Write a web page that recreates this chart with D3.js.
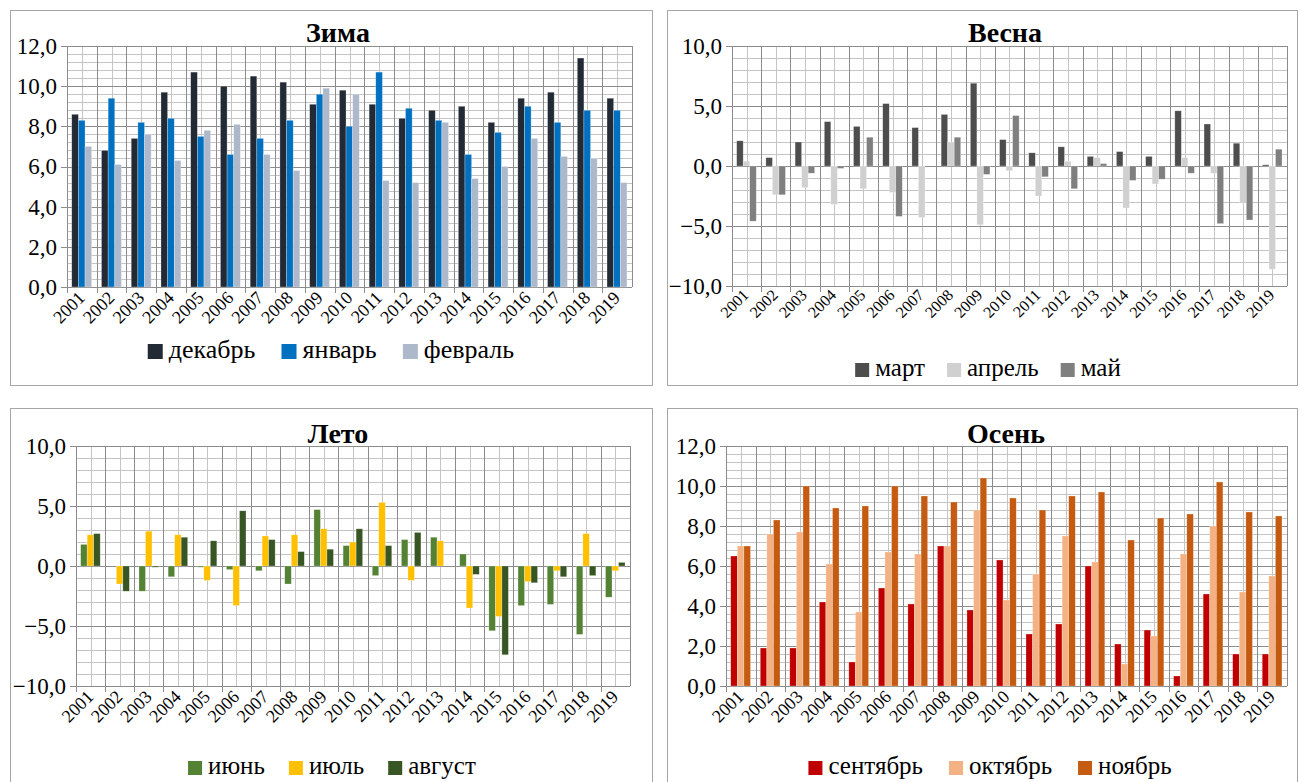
<!DOCTYPE html>
<html>
<head>
<meta charset="utf-8">
<script src="https://cdn.jsdelivr.net/npm/d3@7/dist/d3.min.js"></script>
<style>
  body { margin: 0; background: #fff; }
  svg { display: block; }
  svg text { font-family: "Liberation Serif", "Times New Roman", Times, "DejaVu Serif", serif; fill: #000; }
</style>
</head>
<body>
<svg id="chart" width="1307" height="782"></svg>
<script>
const years = ['2001','2002','2003','2004','2005','2006','2007','2008','2009','2010',
               '2011','2012','2013','2014','2015','2016','2017','2018','2019'];

// Зима
const december = [8.6, 6.8, 7.4, 9.7, 10.7, 10.0, 10.5, 10.2, 9.1, 9.8, 9.1, 8.4, 8.8, 9.0, 8.2, 9.4, 9.7, 11.4, 9.4];
const january  = [8.3, 9.4, 8.2, 8.4, 7.5, 6.6, 7.4, 8.3, 9.6, 8.0, 10.7, 8.9, 8.3, 6.6, 7.7, 9.0, 8.2, 8.8, 8.8];
const february = [7.0, 6.1, 7.6, 6.3, 7.8, 8.1, 6.6, 5.8, 9.9, 9.6, 5.3, 5.2, 8.2, 5.4, 6.0, 7.4, 6.5, 6.4, 5.2];

// Весна
const march = [2.1, 0.7, 2.0, 3.7, 3.3, 5.2, 3.2, 4.3, 6.9, 2.2, 1.1, 1.6, 0.8, 1.2, 0.8, 4.6, 3.5, 1.9, 0.1];
const april = [0.4, -2.4, -1.8, -3.2, -1.9, -2.2, -4.3, 2.0, -4.9, -0.4, -2.5, 0.4, 0.7, -3.5, -1.5, 0.7, -0.6, -3.1, -8.6];
const may   = [-4.6, -2.4, -0.6, -0.2, 2.4, -4.2, 0.0, 2.4, -0.7, 4.2, -0.9, -1.9, 0.2, -1.2, -1.1, -0.6, -4.8, -4.5, 1.4];

// Лето
const june   = [1.8, 0.0, -2.1, -0.9, -0.1, -0.3, -0.4, -1.5, 4.7, 1.7, -0.8, 2.2, 2.4, 1.0, -5.4, -3.3, -3.2, -5.7, -2.6];
const july   = [2.6, -1.5, 2.9, 2.6, -1.2, -3.3, 2.5, 2.6, 3.1, 2.0, 5.3, -1.2, 2.1, -3.5, -4.2, -1.3, -0.4, 2.7, -0.4];
const august = [2.7, -2.1, -0.1, 2.4, 2.1, 4.6, 2.2, 1.2, 1.4, 3.1, 1.7, 2.8, 0.0, -0.7, -7.4, -1.4, -0.9, -0.8, 0.3];

// Осень
const september = [6.5, 1.9, 1.9, 4.2, 1.2, 4.9, 4.1, 7.0, 3.8, 6.3, 2.6, 3.1, 6.0, 2.1, 2.8, 0.5, 4.6, 1.6, 1.6];
const october   = [7.0, 7.6, 7.7, 6.1, 3.7, 6.7, 6.6, 7.0, 8.8, 4.3, 5.6, 7.5, 6.2, 1.1, 2.5, 6.6, 8.0, 4.7, 5.5];
const november  = [7.0, 8.3, 10.0, 8.9, 9.0, 10.0, 9.5, 9.2, 10.4, 9.4, 8.8, 9.5, 9.7, 7.3, 8.4, 8.6, 10.2, 8.7, 8.5];

const positiveTicks = [0, 2, 4, 6, 8, 10, 12];
const signedTicks = [-10, -5, 0, 5, 10];

const FONT = '"Liberation Serif", "Times New Roman", Times, "DejaVu Serif", serif';
const svg = d3.select('#chart');
const fmt = d => d3.format('.1f')(d).replace('.', ',');

function drawPanel(cfg) {
    const g = svg.append('g').attr('font-family', FONT);

    // outer frame
    g.append('rect')
        .attr('x', cfg.box[0] + 0.5).attr('y', cfg.box[1] + 0.5)
        .attr('width', cfg.box[2]).attr('height', cfg.box[3])
        .attr('fill', '#fff').attr('stroke', '#a6a6a6');

    const x = d3.scaleBand().domain(years).range([cfg.left, cfg.right]);
    const names = cfg.series.map(s => s.name);
    const bw = x.bandwidth();
    const xs = d3.scaleBand().domain(names).range([bw * 0.16, bw * 0.83]);
    const y = d3.scaleLinear().domain(cfg.domain).range([cfg.bottom, cfg.top]);

    const grid = g.append('g').attr('shape-rendering', 'crispEdges');

    // minor horizontal grid
    const minor = d3.range(cfg.domain[0], cfg.domain[1] + 1e-9, cfg.minor);
    grid.selectAll('.hminor').data(minor).enter().append('line')
        .attr('x1', cfg.left).attr('x2', cfg.right)
        .attr('y1', d => Math.round(y(d)) + 0.5).attr('y2', d => Math.round(y(d)) + 0.5)
        .attr('stroke', '#c4c4c4');

    // vertical grid: light in the middle of a category, dark on the boundaries
    grid.selectAll('.vminor').data(years).enter().append('line')
        .attr('x1', d => Math.round(x(d) + bw / 2) + 0.5).attr('x2', d => Math.round(x(d) + bw / 2) + 0.5)
        .attr('y1', cfg.top).attr('y2', cfg.bottom)
        .attr('stroke', '#c4c4c4');
    grid.selectAll('.vmajor').data(years.concat(['end'])).enter().append('line')
        .attr('x1', d => Math.round(d === 'end' ? cfg.right : x(d)) + 0.5)
        .attr('x2', d => Math.round(d === 'end' ? cfg.right : x(d)) + 0.5)
        .attr('y1', cfg.top).attr('y2', d => d === 'end' ? cfg.bottom : cfg.bottom + 6)
        .attr('stroke', '#8c8c8c');

    // major horizontal grid + y labels
    const yAxis = g.append('g')
        .attr('transform', `translate(${cfg.left},0)`)
        .call(d3.axisLeft(y).tickValues(cfg.ticks).tickSize(6).tickPadding(4).tickFormat(fmt));
    yAxis.attr('font-family', FONT).attr('font-size', cfg.tickSize);
    yAxis.select('.domain').remove();
    yAxis.selectAll('.tick line').attr('stroke', '#8c8c8c').attr('shape-rendering', 'crispEdges')
        .attr('x2', -6).attr('x1', cfg.right - cfg.left);
    yAxis.selectAll('.tick text').attr('fill', '#000');

    // bars
    cfg.series.forEach(s => {
        g.append('g').selectAll('rect')
            .data(s.values.map((v, i) => ({ year: years[i], v })))
            .enter().append('rect')
            .attr('x', d => x(d.year) + xs(s.name))
            .attr('width', xs.bandwidth())
            .attr('y', d => y(Math.max(0, d.v)))
            .attr('height', d => Math.abs(y(d.v) - y(0)))
            .attr('fill', s.color)
            .attr('stroke', 'rgba(255,255,255,0.45)')
            .attr('stroke-width', 0.6);
    });

    // x labels
    g.append('g').selectAll('text')
        .data(years).enter().append('text')
        .attr('transform', d => `translate(${x(d) + bw / 2 + cfg.yearDx},${cfg.bottom + cfg.yearDy}) rotate(-45)`)
        .attr('text-anchor', 'end')
        .attr('font-size', cfg.yearSize)
        .text(d => d);

    // title
    g.append('text')
        .attr('x', cfg.titleX).attr('y', cfg.titleY)
        .attr('text-anchor', 'middle')
        .attr('font-size', 28).attr('font-weight', 'bold')
        .text(cfg.title);

    // legend
    const lg = g.append('g');
    const items = lg.selectAll('g').data(cfg.series).enter().append('g');
    items.append('rect')
        .attr('y', -cfg.square + 1).attr('width', cfg.square).attr('height', cfg.square)
        .attr('fill', d => d.color);
    items.append('text')
        .attr('x', cfg.square + 6).attr('y', 0)
        .attr('font-size', cfg.legendSize)
        .text(d => d.name);
    let cx = 0;
    items.each(function () {
        const w = this.getBBox().width;
        d3.select(this).attr('transform', `translate(${cx},0)`);
        cx += w + cfg.legendGap;
    });
    const total = cx - cfg.legendGap;
    lg.attr('transform', `translate(${cfg.legendX - total / 2},${cfg.legendY})`);
}

drawPanel({
    title: 'Зима', titleX: 338, titleY: 42,
    box: [10, 10, 642, 375],
    left: 67, right: 632, top: 46, bottom: 287,
    domain: [0, 12], minor: 0.4, ticks: positiveTicks, tickSize: 23,
    yearSize: 18, yearDx: 4, yearDy: 12,
    legendX: 331, legendY: 358, legendSize: 26, square: 15, legendGap: 26,
    series: [
        { name: 'декабрь', values: december, color: '#222a35' },
        { name: 'январь', values: january, color: '#0070c0' },
        { name: 'февраль', values: february, color: '#adb9ca' }
    ]
});

drawPanel({
    title: 'Весна', titleX: 1005, titleY: 42,
    box: [667, 10, 630, 375],
    left: 732, right: 1287, top: 46, bottom: 286,
    domain: [-10, 10], minor: 1, ticks: signedTicks, tickSize: 23,
    yearSize: 16, yearDx: 3, yearDy: 10,
    legendX: 988, legendY: 376, legendSize: 25, square: 14, legendGap: 22,
    series: [
        { name: 'март', values: march, color: '#4d4d4d' },
        { name: 'апрель', values: april, color: '#d0d0d0' },
        { name: 'май', values: may, color: '#7f7f7f' }
    ]
});

drawPanel({
    title: 'Лето', titleX: 338, titleY: 443,
    box: [10, 408, 642, 380],
    left: 76, right: 630, top: 446, bottom: 686,
    domain: [-10, 10], minor: 1, ticks: signedTicks, tickSize: 23,
    yearSize: 18, yearDx: 4, yearDy: 12,
    legendX: 332, legendY: 774, legendSize: 25, square: 14, legendGap: 24,
    series: [
        { name: 'июнь', values: june, color: '#548235' },
        { name: 'июль', values: july, color: '#ffc000' },
        { name: 'август', values: august, color: '#375623' }
    ]
});

drawPanel({
    title: 'Осень', titleX: 1006, titleY: 443,
    box: [667, 408, 630, 380],
    left: 726, right: 1287, top: 446, bottom: 686,
    domain: [0, 12], minor: 0.4, ticks: positiveTicks, tickSize: 23,
    yearSize: 18, yearDx: 4, yearDy: 12,
    legendX: 990, legendY: 774, legendSize: 25, square: 14, legendGap: 26,
    series: [
        { name: 'сентябрь', values: september, color: '#c00000' },
        { name: 'октябрь', values: october, color: '#f4b183' },
        { name: 'ноябрь', values: november, color: '#c55a11' }
    ]
});
</script>
</body>
</html>
